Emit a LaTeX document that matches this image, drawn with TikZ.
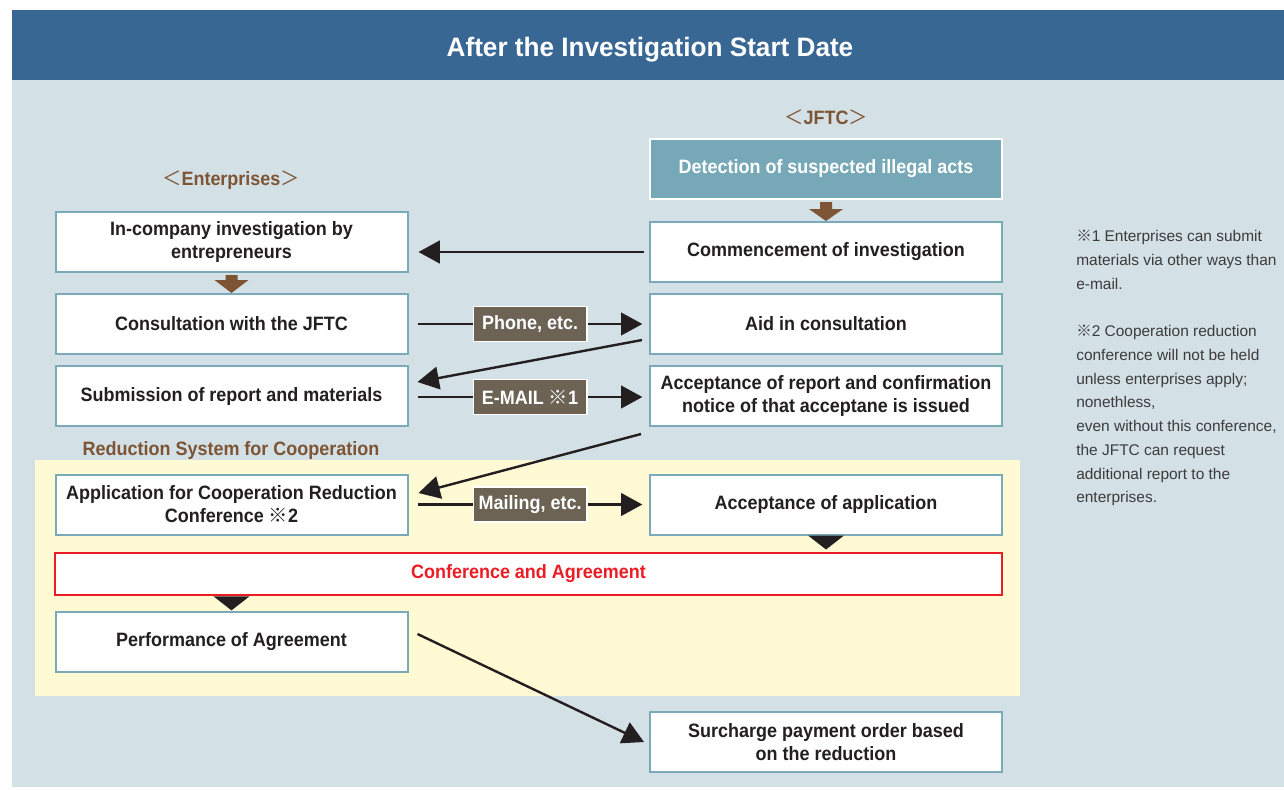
\documentclass[tikz,border=0pt]{standalone}
\usepackage{fontspec}
\setmainfont{Liberation Sans}
\newfontfamily\bxf[FakeStretch=0.93]{Liberation Sans}
\newfontfamily\ttlf[FakeStretch=0.98]{Liberation Sans}
\newfontfamily\ntf[FakeStretch=1.0]{Liberation Sans}
\newfontfamily\cjk{Noto Sans CJK JP}
\usetikzlibrary{arrows.meta,calc}
\definecolor{band}{HTML}{386794}
\definecolor{bg}{HTML}{D3E0E6}
\definecolor{yel}{HTML}{FFF9D4}
\definecolor{boxedge}{HTML}{7AAAB9}
\definecolor{detfill}{HTML}{76A8B7}
\definecolor{lblfill}{HTML}{6D6355}
\definecolor{brownc}{HTML}{7D5535}
\definecolor{txt}{HTML}{231F20}
\definecolor{redc}{HTML}{EC1C24}
\definecolor{notec}{HTML}{3C3C3C}
\newcommand\refmk[1]{{\cjk\mdseries ※}#1}
\begin{document}
\begin{tikzpicture}[x=0.75pt,y=-0.75pt,
  box/.style={draw=boxedge, line width=1.5pt, fill=white, minimum width=264pt, minimum height=45pt,
    align=center, text=txt, inner sep=0pt, font=\bxf\bfseries\fontsize{14.5}{17.3}\selectfont},
  lbl/.style={fill=lblfill, draw=white, line width=1.2pt, text=white, minimum width=85pt,
    minimum height=26pt, inner sep=0pt, font=\bxf\bfseries\fontsize{14.5}{17.3}\selectfont},
  arr/.style={draw=txt, line width=1.8pt, -{Triangle[length=16pt,width=17pt]}},
  head/.style={text=brownc, font=\bxf\bfseries\fontsize{14.5}{17.3}\selectfont, inner sep=0pt}
]
\useasboundingbox (0,0) rectangle (1284,789);
\fill[bg] (12,10) rectangle (1284,787);
\fill[band] (12,10) rectangle (1284,80);
\fill[yel] (35,460) rectangle (1020,696);
\node[text=white, font=\ttlf\bfseries\fontsize{20}{24}\selectfont] (title) at (650,50) {After the Investigation Start Date};

\node[head] (lent) at (231,180) {{\cjk\mdseries ＜}Enterprises{\cjk\mdseries ＞}};
\node[head] (ljftc) at (826,117) {{\cjk\mdseries ＜}JFTC{\cjk\mdseries ＞}};
\node[head] (lred) at (231,450) {Reduction System for Cooperation};

\node[box, fill=detfill, draw=white, text=white] (det) at (826,169) {Detection of suspected illegal acts};
\node[box] (comm) at (826,252) {Commencement of investigation};
\node[box] (inco) at (231.5,242) {In-company investigation by\\entrepreneurs};
\node[box] (cons) at (231.5,324) {Consultation with the JFTC};
\node[box] (aid) at (826,324) {Aid in consultation};
\node[box] (sub) at (231.5,396) {Submission of report and materials};
\node[box] (acc) at (826,396) {Acceptance of report and confirmation\\notice of that acceptane is issued};
\node[box] (app) at (231.5,504.5) {Application for Cooperation Reduction\\Conference \refmk{2}};
\node[box] (acca) at (826,504.5) {Acceptance of application};
\node[box, draw=redc, text=redc, minimum width=710pt, minimum height=32pt] (conf) at (528.5,574) {Conference and Agreement};
\node[box] (perf) at (231.5,642) {Performance of Agreement};
\node[box] (sur) at (826,742) {Surcharge payment order based\\on the reduction};

% brown block arrows
\fill[brownc] ($(det.south)+(-6,2)$) -- ++(12,0) -- ++(0,7) -- ++(11,0) -- ++(-17,12) -- ++(-17,-12) -- ++(11,0) -- cycle;
\fill[brownc] ($(inco.south)+(-6,2)$) -- ++(12,0) -- ++(0,5) -- ++(11,0) -- ++(-17,13) -- ++(-17,-13) -- ++(11,0) -- cycle;
% black triangles
\fill[txt] ($(acca.south)+(-18,0)$) -- ++(36,0) -- ++(-18,14) -- cycle;
\fill[txt] ($(conf.south -| perf.north)+(-18,0)$) -- ++(36,0) -- ++(-18,14) -- cycle;

% connectors
\draw[arr] ([xshift=-4pt]comm.west) -- ([xshift=7.5pt]comm.west -| inco.east);
\draw[arr] ([xshift=7pt]cons.east) -- node[lbl] (ph) {Phone, etc.} ([xshift=-5pt]aid.west);
\draw[arr] ($(aid.west)+(-7,16)$) -- ($(sub.east)+(9,-14)$);
\draw[arr] ([xshift=7pt,yshift=-0.75pt]sub.east) -- node[lbl] (em) {E-MAIL \refmk{1}} ([xshift=-5pt,yshift=-0.75pt]acc.west);
\draw[arr] ($(acc.south west)+(-8,7)$) -- ($(app.east)+(10,-11.5)$);
\draw[arr] ([xshift=7pt]app.east) -- node[lbl] (ml) {Mailing, etc.} ([xshift=-5pt]acca.west);
\draw[arr] ($(perf.east)+(9,-8)$) -- ($(sur.west)+(-5,0)$);

\node[anchor=north west, align=left, text=notec, inner sep=0pt,
  font=\ntf\fontsize{11.6}{17.8}\selectfont] (notes) at (1076,230)
  {\refmk{1} Enterprises can submit\\materials via other ways than\\e-mail.\\[17.8pt]\refmk{2} Cooperation reduction\\conference will not be held\\unless enterprises apply;\\nonethless,\\even without this conference,\\the JFTC can request\\additional report to the\\enterprises.};
\end{tikzpicture}
\end{document}
